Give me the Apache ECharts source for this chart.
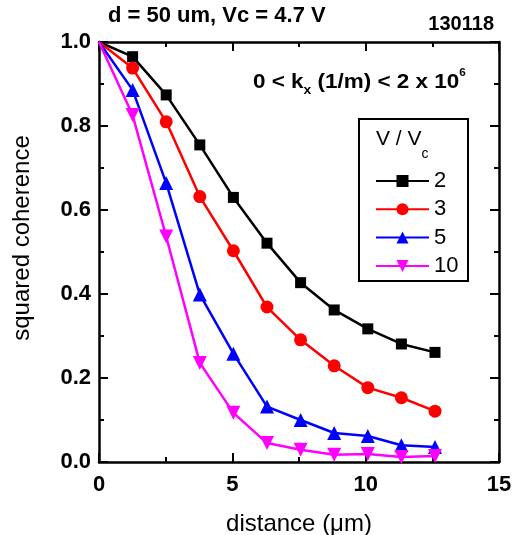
<!DOCTYPE html>
<html>
<head>
<meta charset="utf-8">
<script src="https://cdn.jsdelivr.net/npm/echarts@6/dist/echarts.min.js"></script>
<style>html,body{margin:0;padding:0;background:#fff;}#c{width:518px;height:535px;}</style>
</head>
<body>
<div id="c"></div>
<script>
var distance = [0, 1.26, 2.52, 3.78, 5.04, 6.30, 7.56, 8.82, 10.08, 11.34, 12.60];
var v2  = [1.0, 0.965, 0.874, 0.755, 0.630, 0.521, 0.427, 0.362, 0.317, 0.281, 0.261];
var v3  = [1.0, 0.938, 0.810, 0.632, 0.503, 0.369, 0.291, 0.229, 0.177, 0.153, 0.121];
var v5  = [1.0, 0.886, 0.664, 0.399, 0.258, 0.132, 0.100, 0.069, 0.062, 0.040, 0.036];
var v10 = [1.0, 0.826, 0.537, 0.236, 0.117, 0.045, 0.029, 0.017, 0.019, 0.012, 0.014];
var seriesNames = ['2', '3', '5', '10'];
var xTicks = [0, 5, 10, 15];
var yTicks = [0, 0.2, 0.4, 0.6, 0.8, 1.0];

var FONT = '"Liberation Sans", Arial, sans-serif';

function pts(vals) {
  return vals.map(function (v, i) {
    var d = {value: [distance[i], v]};
    if (i === 0) d.symbol = 'none';
    return d;
  });
}

function axisCommon() {
  return {
    axisLine: {show: true, onZero: false, lineStyle: {color: '#000', width: 2.5}},
    axisTick: {show: true, inside: true, length: 9, lineStyle: {color: '#000', width: 2}},
    minorTick: {show: true, splitNumber: 2, length: 5, lineStyle: {color: '#000', width: 2}},
    splitLine: {show: false},
    minorSplitLine: {show: false}
  };
}

var xAxisBottom = Object.assign({
  type: 'value', position: 'bottom', min: xTicks[0], max: xTicks[xTicks.length - 1], interval: 5,
  axisLabel: {show: true, color: '#000', fontFamily: FONT, fontWeight: 'bold', fontSize: 22, margin: 12},
  name: 'distance (\u03bcm)', nameLocation: 'middle', nameGap: 50,
  nameTextStyle: {color: '#000', fontFamily: FONT, fontSize: 24}
}, axisCommon());
var xAxisTop = Object.assign({
  type: 'value', position: 'top', min: xTicks[0], max: xTicks[xTicks.length - 1], interval: 5,
  axisLabel: {show: false}
}, axisCommon());
var yAxisLeft = Object.assign({
  type: 'value', position: 'left', min: yTicks[0], max: yTicks[yTicks.length - 1], interval: 0.2,
  axisLabel: {show: true, color: '#000', fontFamily: FONT, fontWeight: 'bold', fontSize: 22, margin: 8,
    formatter: function (v) { return v.toFixed(1); }}
}, axisCommon());
var yAxisRight = Object.assign({
  type: 'value', position: 'right', min: yTicks[0], max: yTicks[yTicks.length - 1], interval: 0.2,
  axisLabel: {show: false}
}, axisCommon());

function mkSeries(name, vals, color, symbol, size, rotate) {
  return {
    name: name, type: 'line', data: pts(vals), xAxisIndex: 0, yAxisIndex: 0,
    symbol: symbol, symbolSize: size, symbolRotate: rotate || 0, showAllSymbol: true,
    lineStyle: {color: color, width: 2.5}, itemStyle: {color: color},
    emphasis: {disabled: true}, animation: false, clip: false
  };
}

var chart = echarts.init(document.getElementById('c'), null, {renderer: 'canvas'});
chart.setOption({
  animation: false,
  backgroundColor: '#fff',
  grid: {left: 99, right: 19, top: 42, bottom: 73, containLabel: false, outerBoundsMode: 'none'},
  xAxis: [xAxisBottom, xAxisTop],
  yAxis: [yAxisLeft, yAxisRight],
  legend: {
    orient: 'vertical', left: 375, top: 170, padding: 0,
    itemWidth: 53, itemHeight: 15, itemGap: 6.3,
    textStyle: {color: '#000', fontFamily: FONT, fontSize: 22},
    data: seriesNames, selectedMode: false, z: 10
  },
  series: [
    mkSeries(seriesNames[0], v2, '#000000', 'rect', 11),
    mkSeries(seriesNames[1], v3, '#ff0000', 'circle', 13),
    mkSeries(seriesNames[2], v5, '#0000ff', 'triangle', 14),
    mkSeries(seriesNames[3], v10, '#ff00ff', 'triangle', 14, 180)
  ],
  graphic: [
    {type: 'text', left: 108, top: 5, style: {text: 'd = 50 um, Vc = 4.7 V', fill: '#000', font: 'bold 22px ' + FONT}},
    {type: 'text', right: 24, top: 14, style: {text: '130118', fill: '#000', font: 'bold 20px ' + FONT}},
    {type: 'text', x: 253, y: 67, scaleX: 1.07,
      style: {
        text: '{a|0 < k}{s|x}{a| (1/m) < 2 x 10}{p|6}',
        rich: {
          a: {fontFamily: FONT, fontWeight: 'bold', fontSize: 21, lineHeight: 30, fill: '#000', verticalAlign: 'middle'},
          s: {fontFamily: FONT, fontWeight: 'bold', fontSize: 13, lineHeight: 10, fill: '#000', verticalAlign: 'bottom'},
          p: {fontFamily: FONT, fontWeight: 'bold', fontSize: 11, lineHeight: 22, fill: '#000', verticalAlign: 'top'}
        }
      }
    },
    {type: 'rect', shape: {x: 359, y: 119, width: 109, height: 162}, style: {fill: 'none', stroke: '#000', lineWidth: 2}, z: 1},
    {type: 'text', x: 376, y: 129,
      style: {
        text: '{a|V / V}{s|c}',
        rich: {
          a: {fontFamily: FONT, fontSize: 21, lineHeight: 32, fill: '#000', verticalAlign: 'top'},
          s: {fontFamily: FONT, fontSize: 14, lineHeight: 10, fill: '#000', verticalAlign: 'bottom'}
        }
      }
    },
    {type: 'text', x: 22, y: 238, rotation: Math.PI / 2,
      style: {text: 'squared coherence', fill: '#000', font: '24px ' + FONT, textAlign: 'center', textVerticalAlign: 'middle'}}
  ]
});
</script>
</body>
</html>
